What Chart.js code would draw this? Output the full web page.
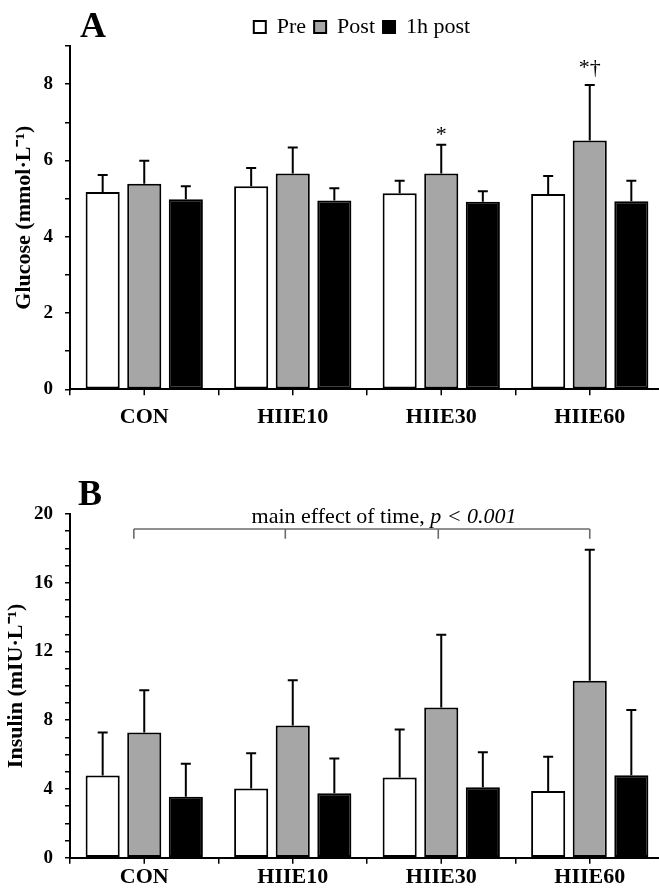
<!DOCTYPE html>
<html><head><meta charset="utf-8">
<script src="https://cdn.jsdelivr.net/npm/chart.js@4.4.1/dist/chart.umd.min.js"></script>
<style>
html,body{margin:0;padding:0;background:#fff;overflow:hidden;}
#wrap{position:relative;width:659px;height:892px;overflow:hidden;background:#fff;}
#cA{position:absolute;left:0;top:0;}
#cB{position:absolute;left:0;top:440px;}
</style></head><body>
<div id="wrap"><canvas id="cA" width="664" height="440"></canvas><canvas id="cB" width="664" height="452"></canvas></div>
<script>
// ---- data ----
const categories = ['CON', 'HIIE10', 'HIIE30', 'HIIE60'];
const seriesNames = ['Pre', 'Post', '1h post'];

const glucosePre    = [5.17, 5.32, 5.14, 5.12];
const glucosePost   = [5.39, 5.66, 5.66, 6.52];
const glucose1h     = [4.98, 4.95, 4.92, 4.93];
const glucosePreSD  = [0.45, 0.48, 0.33, 0.47];
const glucosePostSD = [0.60, 0.68, 0.75, 1.46];
const glucose1hSD   = [0.34, 0.32, 0.27, 0.54];
const glucoseTicks  = [0, 2, 4, 6, 8];
const glucosePostMarks = ['', '', '*', '*†'];

const insulinPre    = [4.78, 4.02, 4.66, 3.88];
const insulinPost   = [7.28, 7.69, 8.74, 10.29];
const insulin1h     = [3.55, 3.75, 4.10, 4.80];
const insulinPreSD  = [2.50, 2.06, 2.80, 2.00];
const insulinPostSD = [2.47, 2.64, 4.23, 7.63];
const insulin1hSD   = [1.91, 2.02, 2.04, 3.80];
const insulinTicks  = [0, 4, 8, 12, 16, 20];

// ---- styles ----
const SERIF = "'Liberation Serif', 'Times New Roman', serif";
const fills = ['#ffffff', '#a6a6a6', '#000000'];

function makeDatasets(vals, sds) {
  return vals.map((v, k) => ({
    label: seriesNames[k],
    data: v,
    sd: sds[k],
    backgroundColor: fills[k],
    borderColor: '#000',
    borderWidth: 2,
    borderSkipped: false,
    barPercentage: 0.82,
    categoryPercentage: 0.84
  }));
}

const errorBars = {
  id: 'errorBars',
  afterDatasetsDraw(chart) {
    const ctx = chart.ctx, y = chart.scales.y;
    chart.data.datasets.forEach((ds, di) => {
      chart.getDatasetMeta(di).data.forEach((bar, i) => {
        const base = y.getPixelForValue(ds.data[i]);
        const top = y.getPixelForValue(ds.data[i] + ds.sd[i]);
        ctx.save();
        ctx.strokeStyle = '#000'; ctx.lineWidth = 2;
        ctx.beginPath();
        ctx.moveTo(bar.x, base); ctx.lineTo(bar.x, top);
        ctx.moveTo(bar.x - 5, top); ctx.lineTo(bar.x + 5, top);
        ctx.stroke();
        ctx.restore();
      });
    });
  }
};

const centerTicks = {
  id: 'centerTicks',
  afterDraw(chart) {
    const ctx = chart.ctx, x = chart.scales.x, yb = chart.chartArea.bottom;
    ctx.save(); ctx.strokeStyle = '#000'; ctx.lineWidth = 1.5;
    categories.forEach((c, i) => {
      const px = x.getPixelForValue(i);
      ctx.beginPath(); ctx.moveTo(px, yb); ctx.lineTo(px, yb + 6); ctx.stroke();
    });
    ctx.restore();
  }
};

const panelLabel = {
  id: 'panelLabel',
  afterDraw(chart, args, opts) {
    const ctx = chart.ctx;
    ctx.save();
    ctx.font = "bold 36px " + SERIF; ctx.fillStyle = '#000';
    ctx.textAlign = 'left'; ctx.textBaseline = 'alphabetic';
    ctx.fillText(opts.text, chart.chartArea.left + opts.dx, opts.y);
    ctx.restore();
  }
};

const legendShift = {
  id: 'legendShift',
  afterLayout(chart, args, opts) {
    const lg = chart.legend;
    if (!lg) return;
    lg.left += opts.dx; lg.right += opts.dx;
    lg.top += opts.dy; lg.bottom += opts.dy;
  }
};

const sigMarks = {
  id: 'sigMarks',
  afterDraw(chart, args, opts) {
    const ctx = chart.ctx, y = chart.scales.y;
    const meta = chart.getDatasetMeta(1);
    ctx.save();
    ctx.font = "22px " + SERIF; ctx.fillStyle = '#000';
    ctx.textAlign = 'center'; ctx.textBaseline = 'alphabetic';
    glucosePostMarks.forEach((m, i) => {
      if (!m) return;
      ctx.fillText(m, meta.data[i].x, y.getPixelForValue(opts.yValues[i]));
    });
    ctx.restore();
  }
};

const timeBracket = {
  id: 'timeBracket',
  afterDraw(chart, args, opts) {
    const ctx = chart.ctx, x = chart.scales.x, y = chart.scales.y;
    const cw = x.getPixelForValue(1) - x.getPixelForValue(0);
    const px = v => x.getPixelForValue(0) + v * cw;
    const yl = y.getPixelForValue(opts.lineValue);
    const yt = y.getPixelForValue(opts.tickValue);
    ctx.save();
    ctx.strokeStyle = '#6b6b6b'; ctx.lineWidth = 1.6;
    ctx.beginPath();
    ctx.moveTo(px(opts.positions[0]), yl);
    ctx.lineTo(px(opts.positions[opts.positions.length - 1]), yl);
    opts.positions.forEach(p => { ctx.moveTo(px(p), yl); ctx.lineTo(px(p), yt); });
    ctx.stroke();
    // text
    const t1 = 'main effect of time, ', t2 = 'p < 0.001';
    ctx.fillStyle = '#000'; ctx.textBaseline = 'alphabetic'; ctx.textAlign = 'left';
    ctx.font = "22px " + SERIF; const w1 = ctx.measureText(t1).width;
    ctx.font = "italic 22px " + SERIF; const w2 = ctx.measureText(t2).width;
    const cx = px(opts.textCenter), ty = y.getPixelForValue(opts.textValue);
    let sx = cx - (w1 + w2) / 2;
    ctx.font = "22px " + SERIF; ctx.fillText(t1, sx, ty);
    ctx.font = "italic 22px " + SERIF; ctx.fillText(t2, sx + w1, ty);
    ctx.restore();
  }
};

function yScale(max, labelTicks, title, titlePad) {
  return {
    min: 0, max: max,
    ticks: {
      stepSize: 1, autoSkip: false, color: '#000', padding: 12,
      font: { family: SERIF, size: 19, weight: 'bold' },
      callback: v => labelTicks.includes(v) ? String(v) : ''
    },
    grid: { drawOnChartArea: false, drawTicks: true, tickLength: 5, color: '#000', lineWidth: 1.5 },
    border: { display: true, color: '#000', width: 2 },
    title: { display: true, text: title, color: '#000', padding: { top: titlePad, bottom: 0 },
      font: { family: SERIF, size: 22, weight: 'bold' } },
    afterFit: s => { s.width = 70; }
  };
}

function xScale(axisHeight, pad) {
  return {
    offset: true,
    ticks: { color: '#000', padding: pad, font: { family: SERIF, size: 22, weight: 'bold' } },
    grid: { offset: true, drawOnChartArea: false, drawTicks: true, tickLength: 6, color: '#000', lineWidth: 1.5 },
    border: { display: true, color: '#000', width: 2 },
    afterFit: s => { s.height = axisHeight; }
  };
}

Chart.defaults.font.family = SERIF;
Chart.defaults.color = '#000';

new Chart(document.getElementById('cA'), {
  type: 'bar',
  data: { labels: categories, datasets: makeDatasets([glucosePre, glucosePost, glucose1h], [glucosePreSD, glucosePostSD, glucose1hSD]) },
  options: {
    responsive: false, animation: false, devicePixelRatio: 1,
    layout: { padding: { top: 6, left: 0, right: 0, bottom: 0 } },
    plugins: {
      legend: {
        display: true, position: 'top', align: 'center',
        labels: { boxWidth: 12, boxHeight: 12, padding: 8, color: '#000',
          font: { family: SERIF, size: 22 } }
      },
      tooltip: { enabled: false },
      legendShift: { dx: 30, dy: 2 },
      panelLabel: { text: 'A', dx: 10, y: 37 },
      sigMarks: { yValues: [0, 0, 6.52, 8.27] }
    },
    scales: {
      x: xScale(440 - 389.3, 9),
      y: yScale(9, glucoseTicks, 'Glucose (mmol·L⁻¹)', 11)
    }
  },
  plugins: [errorBars, centerTicks, panelLabel, legendShift, sigMarks]
});

new Chart(document.getElementById('cB'), {
  type: 'bar',
  data: { labels: categories, datasets: makeDatasets([insulinPre, insulinPost, insulin1h], [insulinPreSD, insulinPostSD, insulin1hSD]) },
  options: {
    responsive: false, animation: false, devicePixelRatio: 1,
    layout: { padding: { top: 74, left: 0, right: 0, bottom: 0 } },
    plugins: {
      legend: { display: false },
      tooltip: { enabled: false },
      panelLabel: { text: 'B', dx: 8, y: 505 - 440 },
      timeBracket: { positions: [-0.07, 0.95, 1.98, 3.0], lineValue: 19.13, tickValue: 18.56, textCenter: 1.615, textValue: 19.5 }
    },
    scales: {
      x: xScale(452 - 417.7, 0),
      y: yScale(20, insulinTicks, 'Insulin (mIU·L⁻¹)', 3)
    }
  },
  plugins: [errorBars, centerTicks, panelLabel, timeBracket]
});
</script>
</body></html>
